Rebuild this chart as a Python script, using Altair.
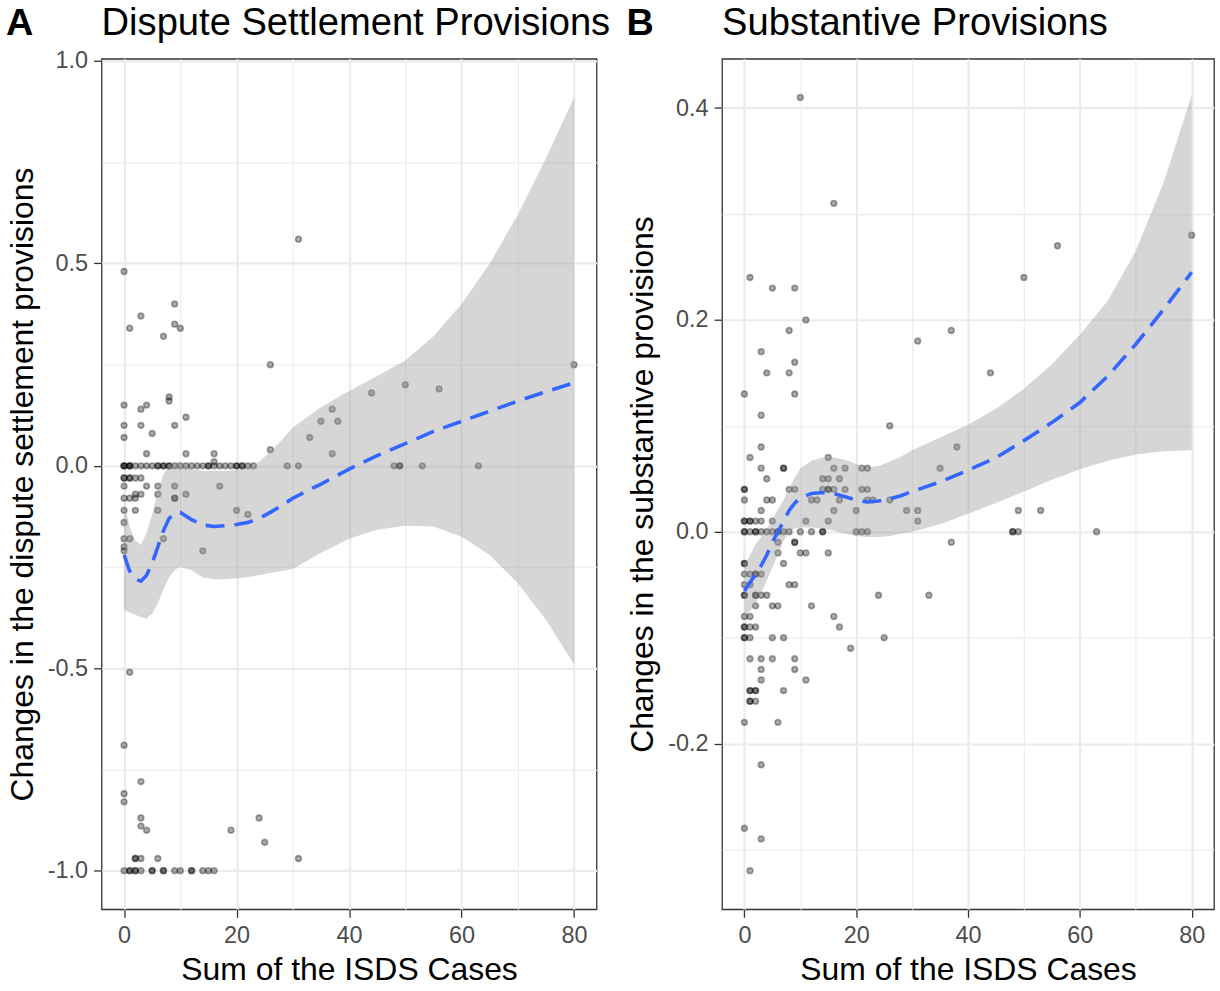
import altair as alt
import pandas as pd

# ---------------- Panel A: dispute settlement provisions ----------------
ds_levels = [0.56, 0.48, 0.40, 0.37, 0.35, 0.34, 0.32, 0.25, 0.20, 0.19, 0.18, 0.17, 0.16,
             0.15, 0.14, 0.12, 0.11, 0.10, 0.08, 0.07, 0.04, 0.03, 0.01, 0.0,
             -0.03, -0.05, -0.07, -0.08, -0.11, -0.12, -0.14, -0.18, -0.20, -0.21,
             -0.51, -0.69, -0.78, -0.81, -0.83, -0.87, -0.89, -0.90, -0.93, -0.97, -1.0]
ds_x_at = [[31], [0], [9], [3], [9], [1, 10], [7], [26, 80], [50], [56], [44], [8], [8],
           [0, 4], [3, 37], [11], [35, 38], [0, 3, 9], [5], [0, 33], [26], [4, 11, 16, 37], [16],
           [0, 0, 0, 1, 1, 1, 2, 3, 4, 5, 6, 6, 7, 7, 8, 8, 9, 10, 11, 12, 13, 14, 15, 15, 16, 17,
            18, 19, 20, 20, 21, 21, 22, 23, 29, 31, 48, 49, 49, 53, 63],
           [0, 0, 1, 1, 2, 3], [0, 4, 6, 9, 17], [2, 3, 6, 11], [0, 1, 2, 9, 9], [0, 2, 6, 20], [22],
           [0], [0, 1, 7], [0], [0, 14],
           [1], [0], [3], [0], [0], [3, 24], [3], [4, 19], [25], [2, 2, 3, 6, 31],
           [0, 1, 1, 2, 2, 3, 5, 5, 7, 7, 9, 10, 12, 12, 14, 15, 16]]

ds_fit_x = [0, 1, 2, 3, 4, 5, 6, 7, 8, 9, 10, 12, 14, 16, 18, 20, 22, 24, 26, 28, 30,
            35, 40, 45, 50, 55, 60, 65, 70, 75, 80]
ds_fit = [-0.22, -0.26, -0.28, -0.285, -0.27, -0.24, -0.20, -0.16, -0.13, -0.117, -0.115,
          -0.133, -0.146, -0.15, -0.148, -0.145, -0.14, -0.13, -0.115, -0.098, -0.08,
          -0.045, -0.008, 0.025, 0.055, 0.085, 0.11, 0.135, 0.16, 0.183, 0.205]
ds_lo = [-0.355, -0.362, -0.368, -0.374, -0.377, -0.365, -0.34, -0.305, -0.275, -0.257, -0.25,
         -0.258, -0.276, -0.28, -0.28, -0.278, -0.275, -0.27, -0.265, -0.26, -0.255,
         -0.215, -0.18, -0.158, -0.148, -0.15, -0.175, -0.22, -0.29, -0.38, -0.49]
ds_hi = [-0.09, -0.15, -0.185, -0.195, -0.165, -0.12, -0.06, -0.02, 0.0, 0.008, 0.01,
         -0.008, -0.012, -0.012, -0.012, -0.01, -0.005, 0.01, 0.035, 0.063, 0.095,
         0.145, 0.185, 0.222, 0.26, 0.32, 0.40, 0.50, 0.62, 0.76, 0.91]

# ---------------- Panel B: substantive provisions ----------------
sp_levels = [0.41, 0.31, 0.28, 0.27, 0.24, 0.23, 0.20, 0.19, 0.18, 0.17, 0.16, 0.15, 0.13,
             0.11, 0.10, 0.08, 0.07, 0.06, 0.05, 0.04, 0.03, 0.02, 0.01, 0.0,
             -0.01, -0.02, -0.03, -0.04, -0.05, -0.06, -0.07, -0.08, -0.09, -0.10, -0.11,
             -0.12, -0.13, -0.14, -0.15, -0.16, -0.18, -0.22, -0.28, -0.29, -0.32]
sp_x_at = [[10], [16], [80], [56], [1, 50], [5, 9], [11], [8, 37], [31], [3], [9], [4, 8, 44], [0, 9],
           [3], [26], [3, 38], [1, 15],
           [3, 7, 7, 16, 18, 21, 22, 35],
           [4, 14, 15, 17],
           [0, 0, 8, 9, 14, 15, 15, 16, 18, 21, 22],
           [0, 4, 5, 12, 13, 17, 22, 23, 26],
           [3, 16, 20, 29, 31, 49, 53],
           [0, 0, 1, 1, 2, 3, 5, 11, 15, 31],
           [0, 0, 1, 2, 2, 3, 4, 5, 6, 6, 7, 8, 10, 12, 14, 14, 20, 21, 22, 48, 48, 49, 63],
           [6, 9, 9, 37], [6, 10, 11, 15], [0, 0, 7], [0, 1, 2, 2, 3], [0, 1, 8, 9],
           [0, 0, 2, 2, 3, 4, 24, 33], [2, 5, 6, 12], [0, 1, 16], [0, 0, 1, 2, 17],
           [0, 0, 1, 5, 7, 25], [19], [1, 3, 5, 9], [3, 9], [3, 11], [1, 1, 2, 2, 7], [1, 1, 2],
           [0, 6], [3], [0], [3], [1]]

sp_fit_x = ds_fit_x
sp_fit = [-0.056, -0.048, -0.040, -0.032, -0.022, -0.01, 0.0, 0.01, 0.02, 0.027, 0.032,
          0.036, 0.037, 0.036, 0.033, 0.030, 0.028, 0.029, 0.031, 0.034, 0.038,
          0.047, 0.058, 0.070, 0.086, 0.103, 0.122, 0.147, 0.177, 0.210, 0.245]
sp_lo = [-0.08, -0.075, -0.068, -0.058, -0.046, -0.034, -0.021, -0.009, 0.0, 0.003, 0.004,
         0.004, 0.003, 0.001, -0.002, -0.004, -0.005, -0.005, -0.004, -0.002, 0.0,
         0.007, 0.017, 0.027, 0.038, 0.049, 0.059, 0.067, 0.073, 0.076, 0.077]
sp_hi = [-0.032, -0.022, -0.012, -0.005, 0.002, 0.012, 0.021, 0.03, 0.041, 0.051, 0.06,
         0.067, 0.07, 0.07, 0.068, 0.064, 0.061, 0.062, 0.066, 0.071, 0.077,
         0.089, 0.101, 0.116, 0.135, 0.158, 0.186, 0.218, 0.265, 0.33, 0.412]

x_ticks = [0, 10, 20, 30, 40, 50, 60, 70, 80]
ds_y_ticks = [-1.0, -0.75, -0.5, -0.25, 0.0, 0.25, 0.5, 0.75, 1.0]
sp_y_ticks = [-0.3, -0.2, -0.1, 0.0, 0.1, 0.2, 0.3, 0.4]

FONT = "Liberation Sans"
MINUS = "\u2212"


def points_frame(levels, xs):
    rows = []
    for y, xl in zip(levels, xs):
        for x in xl:
            rows.append({"x": x, "y": y})
    return pd.DataFrame(rows)


def panel(pts, fx, fit, lo, hi, ydomain, yticks, ymult, ytitle, title, letter, width, height):
    xmajor = "datum.value % 20 == 0"
    ymajor = f"abs(datum.value*{ymult} - round(datum.value*{ymult})) < 1e-6"
    xscale = alt.Scale(domain=[-4, 84], nice=False, zero=False)
    yscale = alt.Scale(domain=ydomain, nice=False, zero=False)
    xaxis = alt.Axis(
        values=x_ticks, title="Sum of the ISDS Cases",
        labelExpr=f"{xmajor} ? datum.label : ''",
        gridWidth={"condition": {"test": xmajor, "value": 2.2}, "value": 1.1},
        tickOpacity={"condition": {"test": xmajor, "value": 1}, "value": 0},
    )
    yaxis = alt.Axis(
        values=yticks, title=ytitle,
        labelExpr=f"{ymajor} ? replace(format(datum.value, '.1f'), '{MINUS}', '-') : ''",
        gridWidth={"condition": {"test": ymajor, "value": 2.2}, "value": 1.1},
        tickOpacity={"condition": {"test": ymajor, "value": 1}, "value": 0},
    )
    fitdf = pd.DataFrame({"x": fx, "fit": fit, "lo": lo, "hi": hi})
    base_pts = alt.Chart(pts).mark_circle(
        size=34, color="black", opacity=1, fillOpacity=0.33,
        stroke="black", strokeOpacity=0.33, strokeWidth=1.6,
    ).encode(
        x=alt.X("x:Q", scale=xscale, axis=xaxis),
        y=alt.Y("y:Q", scale=yscale, axis=yaxis),
    )
    band = alt.Chart(fitdf).mark_area(color="#999999", opacity=0.4).encode(
        x="x:Q", y="lo:Q", y2="hi:Q"
    )
    line = alt.Chart(fitdf).mark_line(
        color="#3366FF", strokeWidth=3.6, strokeDash=[19, 10]
    ).encode(x="x:Q", y="fit:Q")
    heads = pd.DataFrame({"label": [letter, title], "pos": ["letter", "title"]})
    lab = alt.Chart(heads).transform_filter("datum.pos == 'letter'").mark_text(
        align="left", baseline="alphabetic", fontSize=38, fontWeight="bold",
        font=FONT, color="black",
    ).encode(x=alt.value(-96), y=alt.value(-24), text="label:N")
    ttl = alt.Chart(heads).transform_filter("datum.pos == 'title'").mark_text(
        align="left", baseline="alphabetic", fontSize=38.3, fontWeight="normal",
        font=FONT, color="black",
    ).encode(x=alt.value(0), y=alt.value(-24), text="label:N")
    return alt.layer(base_pts, band, line, lab, ttl).properties(width=width, height=height)


left = panel(points_frame(ds_levels, ds_x_at), ds_fit_x, ds_fit, ds_lo, ds_hi,
             [-1.0955, 1.0055], ds_y_ticks, 2,
             "Changes in the dispute settlement provisions",
             "Dispute Settlement Provisions", "A", 497, 854)
right = panel(points_frame(sp_levels, sp_x_at), sp_fit_x, sp_fit, sp_lo, sp_hi,
              [-0.3565, 0.4465], sp_y_ticks, 5,
              "Changes in the substantive provisions",
              "Substantive Provisions", "B", 494, 854)

chart = alt.hconcat(left, right, spacing=126, bounds="flush").properties(
    padding={"left": 5, "top": 1, "right": 5, "bottom": 5}
).configure_view(
    stroke="#333333", strokeWidth=1.3
).configure_axis(
    labelFont=FONT, labelFontSize=23.5, labelColor="#4d4d4d", labelPadding=6,
    titleFont=FONT, titleFontSize=32, titleFontWeight="normal", titleColor="black",
    titlePadding=8, tickColor="#333333", tickSize=8, tickWidth=1.3,
    domain=False, gridColor="#ebebeb",
)

chart.save("out.html", embed_options={"renderer": "svg", "actions": False})
